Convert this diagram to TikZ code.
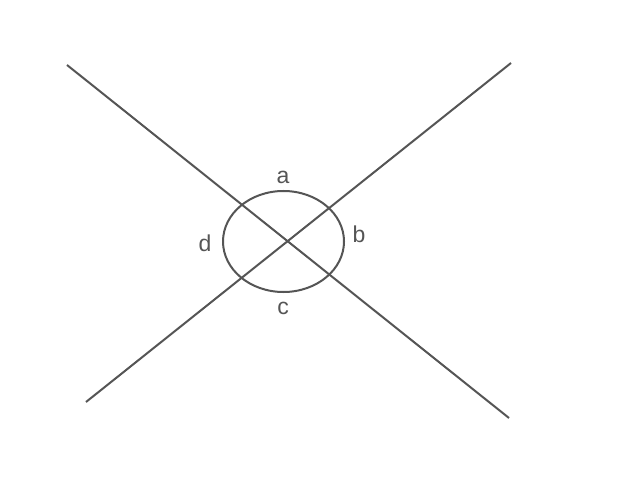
\documentclass[tikz,border=0pt]{standalone}
\usepackage{fontspec}
\setmainfont{Liberation Sans}
\usetikzlibrary{shapes.geometric}
\definecolor{ln}{HTML}{555555}
\begin{document}
\begin{tikzpicture}[x=1bp,y=-1bp,
  ln/.style={draw=ln,line width=2bp},
  lab/.style={text=ln,font=\fontsize{23bp}{27bp}\selectfont,inner sep=0pt}]
\useasboundingbox[fill=white] (0,0) rectangle (630,492);
\coordinate (p1) at (67,65);
\coordinate (p2) at (509,418);
\coordinate (q1) at (511,63);
\coordinate (q2) at (86,402);
\draw[ln] (p1) -- (p2);
\draw[ln] (q1) -- (q2);
\node[ln,ellipse,minimum width=121bp,minimum height=101bp,inner sep=0pt] (e) at (283.5,241.5) {};
\node[lab] (a) at (283,177) {a};
\node[lab] (b) at (359,234) {b};
\node[lab] (c) at (283,308) {c};
\node[lab] (d) at (205,243) {d};
\end{tikzpicture}
\end{document}
